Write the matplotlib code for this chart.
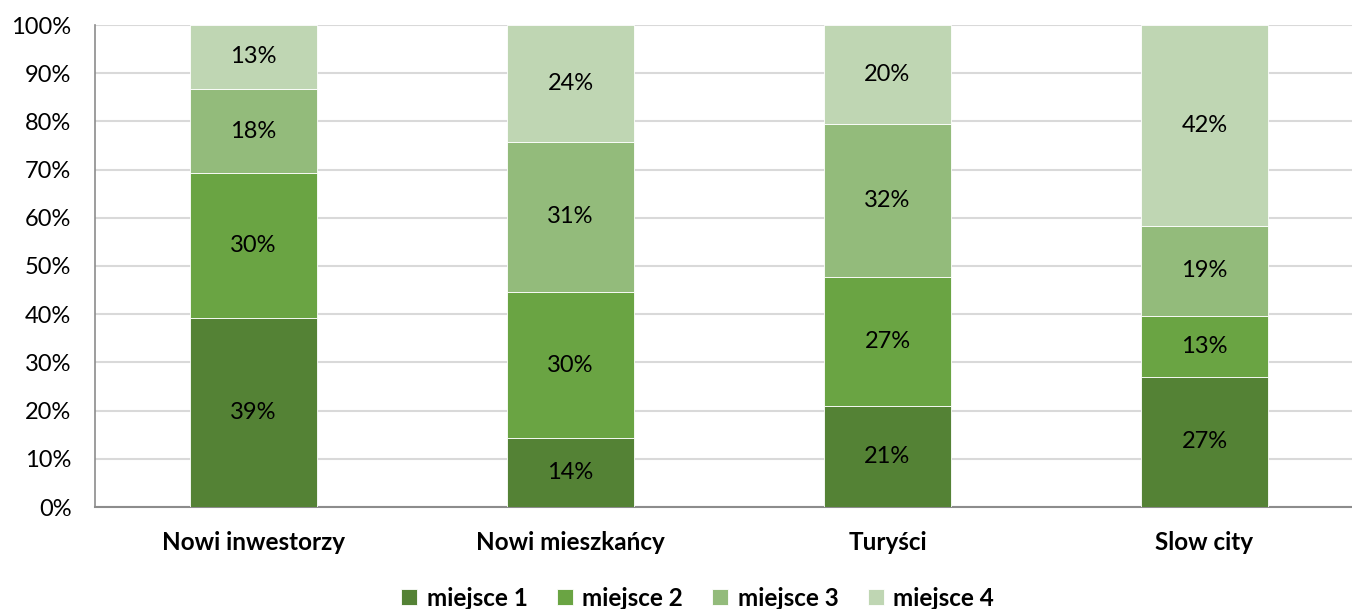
import matplotlib.pyplot as plt
import numpy as np

plt.rcParams['font.family'] = ['Lato', 'DejaVu Sans']

categories = ['Nowi inwestorzy', 'Nowi mieszkańcy', 'Turyści', 'Slow city']
series_names = ['miejsce 1', 'miejsce 2', 'miejsce 3', 'miejsce 4']
miejsce_1 = [39.2, 14.3, 21.0, 27.0]
miejsce_2 = [30.0, 30.3, 26.8, 12.7]
miejsce_3 = [17.6, 31.2, 31.7, 18.6]
miejsce_4 = [13.2, 24.2, 20.4, 41.7]
colors = ['#548235', '#6aa443', '#93bb7b', '#bfd6b3']

series = [miejsce_1, miejsce_2, miejsce_3, miejsce_4]

fig = plt.figure(figsize=(13.52, 6.09), dpi=100)
ax = fig.add_axes([95 / 1352, 1 - 507 / 609, 1268 / 1352, 482 / 609])

x = np.arange(len(categories))
bottom = np.zeros(len(categories))
for name, vals, col in zip(series_names, series, colors):
    vals = np.array(vals)
    ax.bar(x, vals, 0.4, bottom=bottom, color=col, label=name,
           edgecolor='white', linewidth=0.6, zorder=3)
    for xi, b, v in zip(x, bottom, vals):
        ax.text(xi, b + v / 2, f"{v:.0f}%", ha='center', va='center',
                fontsize=17, color='black', zorder=4)
    bottom += vals

ax.set_xlim(-0.5, 3.5)
ax.set_ylim(0, 100)
ax.set_yticks(np.arange(0, 101, 10))
ax.set_yticklabels([f"{t}%" for t in range(0, 101, 10)], fontsize=17)
ax.set_xticks(x)
ax.set_xticklabels(categories, fontsize=17.5, fontweight='bold')
ax.tick_params(axis='both', length=0)
ax.tick_params(axis='y', pad=17)
ax.tick_params(axis='x', pad=17)
ax.grid(axis='y', color='#d9d9d9', linewidth=1.5, zorder=0)
for s in ['top', 'right']:
    ax.spines[s].set_visible(False)
ax.spines['left'].set_color('#8c8c8c')
ax.spines['bottom'].set_color('#8c8c8c')
ax.spines['left'].set_linewidth(1.2)
ax.spines['bottom'].set_linewidth(1.5)

# legend sits a bit right of centre in the original
fig.legend(loc='center', bbox_to_anchor=(0.516, 1 - 598 / 609), ncol=4, frameon=False,
           prop={'size': 17.5, 'weight': 'bold'}, handlelength=0.65, handleheight=0.65,
           handletextpad=0.4, columnspacing=1.2)

fig.savefig('out.png', dpi=100)
